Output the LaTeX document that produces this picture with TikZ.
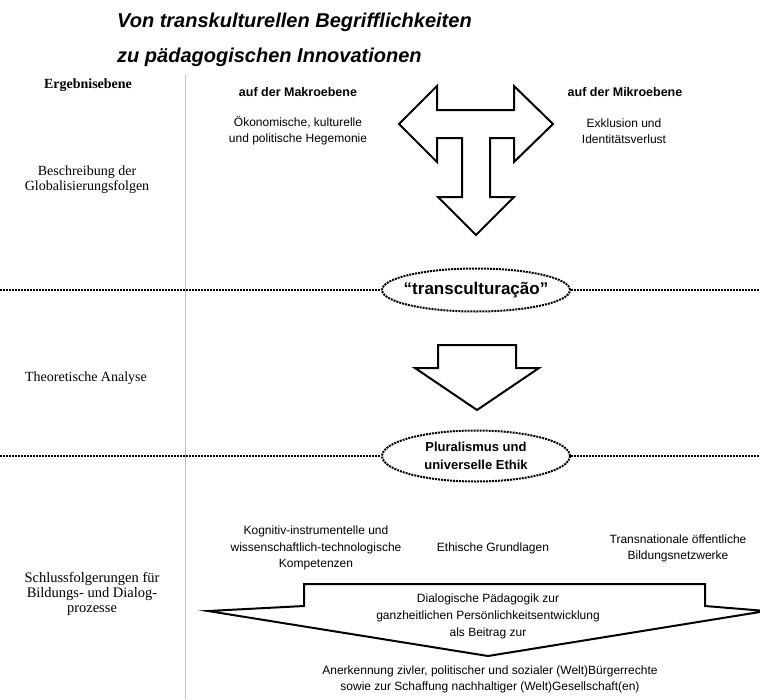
\documentclass[tikz,border=0pt]{standalone}
\usepackage{fontspec}
\setmainfont{Liberation Serif}
\setsansfont{Liberation Sans}
\usetikzlibrary{shapes.geometric}

\begin{document}
\begin{tikzpicture}[x=1pt, y=-1pt,
  lab/.style={font=\fontsize{14}{15}\selectfont, align=center, inner sep=0pt},
  txt/.style={font=\sffamily\fontsize{12}{16}\selectfont, align=center, inner sep=0pt},
  hd/.style={font=\sffamily\bfseries\fontsize{12.5}{15}\selectfont, align=center, inner sep=0pt},
  ttl/.style={font=\sffamily\bfseries\itshape\fontsize{20}{24}\selectfont, anchor=west, inner sep=0pt},
  blockarrow/.style={draw, line width=2pt, line join=miter, fill=white},
  bubble/.style={ellipse, draw, densely dotted, line width=2pt, minimum width=188pt, inner ysep=0pt, align=center},
  level/.style={densely dotted, line width=2pt}]
\useasboundingbox (0,0) rectangle (760,699);

% title
\node[ttl] (title1) at (117,22) {Von transkulturellen Begrifflichkeiten};
\node[ttl] (title2) at (117,57) {zu p\"adagogischen Innovationen};

% column line
\draw[black!25, line width=0.7pt] (185,75) -- (185,699);

% left column
\node[lab, font=\bfseries\fontsize{14}{15}\selectfont] (ergeb) at (88,85) {Ergebnisebene};
\node[lab] (beschr) at (87,180) {Beschreibung der\\Globalisierungsfolgen};
\node[lab] (theo) at (86,378) {Theoretische Analyse};
\node[lab, font=\fontsize{14.5}{14.8}\selectfont] (schluss) at (92,594) {Schlussfolgerungen f\"ur\\Bildungs- und Dialog-\\prozesse};

% globalisation level
\node[hd] (makro) at (298,92) {auf der Makroebene};
\node[hd] (mikro) at (625,92) {auf der Mikroebene};
\node[txt] (makrotxt) at (298,131) {\"Okonomische, kulturelle\\und politische Hegemonie};
\node[txt] (mikrotxt) at (624,131) {Exklusion und\\Identit\"atsverlust};
\draw[blockarrow] (399,124) -- (437,86) -- (437,110) -- (514,110) -- (514,86) -- (553,124)
  -- (514,162) -- (514,138) -- (490,138) -- (490,197) -- (514,197) -- (476,235)
  -- (438,197) -- (462,197) -- (462,138) -- (437,138) -- (437,162) -- cycle;

% first level
\coordinate (l1w) at (0,290);
\coordinate (l1e) at (760,290);
\node[bubble, inner xsep=-11pt, minimum height=43pt, font=\sffamily\bfseries\fontsize{17}{20}\selectfont] (trans) at (476,290) {``transcultura\c{c}\~ao''};
\draw[level] (l1w) -- (trans.west);
\draw[level] (trans.east) -- (l1e);

\draw[blockarrow] (438,345) -- (516,345) -- (516,368) -- (539,368) -- (477,410)
  -- (415,368) -- (438,368) -- cycle;

% second level
\coordinate (l2w) at (0,456);
\coordinate (l2e) at (760,456);
\node[bubble, inner xsep=0pt, minimum height=51pt, font=\sffamily\bfseries\fontsize{13}{18}\selectfont] (plural) at (476,456) {Pluralismus und\\universelle Ethik};
\draw[level] (l2w) -- (plural.west);
\draw[level] (plural.east) -- (l2e);

% conclusions
\node[txt, font=\sffamily\fontsize{12}{16.5}\selectfont] (komp) at (316,548) {Kognitiv-instrumentelle und\\wissenschaftlich-technologische\\Kompetenzen};
\node[txt] (ethik) at (493,548) {Ethische Grundlagen};
\node[txt] (netz) at (678,548) {Transnationale \"offentliche\\Bildungsnetzwerke};

\draw[blockarrow] (208,611) -- (304,606) -- (304,584) -- (705,584) -- (705,606)
  -- (766,611) -- (488,656) -- cycle;
\node[txt, font=\sffamily\fontsize{12}{17}\selectfont] (dialog) at (488,616) {Dialogische P\"adagogik zur\\ganzheitlichen Pers\"onlichkeitsentwicklung\\als Beitrag zur};
\node[txt] (aner) at (490,679) {Anerkennung zivler, politischer und sozialer (Welt)B\"urgerrechte\\sowie zur Schaffung nachhaltiger (Welt)Gesellschaft(en)};
\end{tikzpicture}
\end{document}
